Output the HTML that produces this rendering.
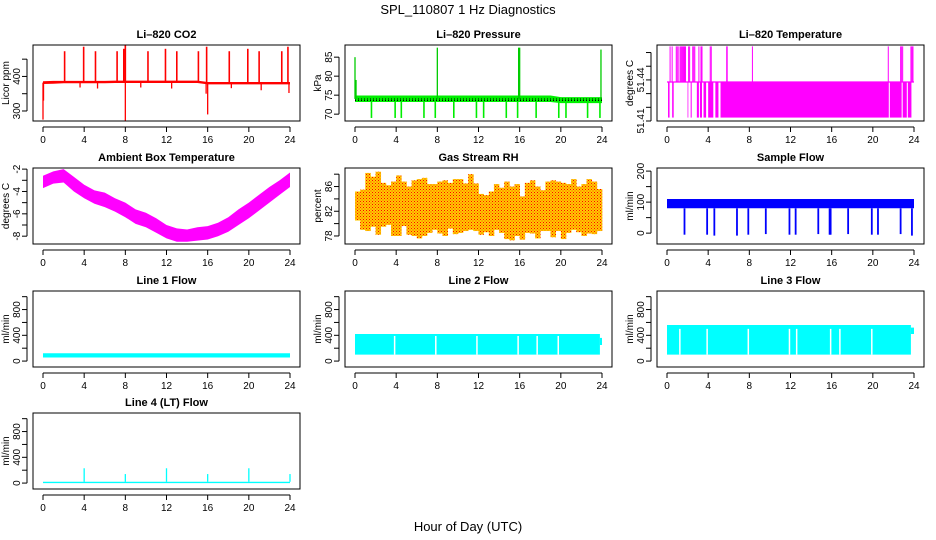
<!DOCTYPE html>
<html><head><meta charset="utf-8">
<style>
html,body{margin:0;padding:0;background:#fff;}
svg{display:block;font-family:"Liberation Sans",Arial,sans-serif;}
</style></head>
<body>
<svg id="chart" width="936" height="540" viewBox="0 0 936 540">
<text x="468" y="14" font-size="13" text-anchor="middle">SPL_110807  1 Hz Diagnostics</text>
<text x="468" y="531" font-size="13" text-anchor="middle">Hour of Day (UTC)</text>
</svg>
<script>
// ---------- data ----------
const xTicks = [0,4,8,12,16,20,24];
const hours = [0,1,2,3,4,5,6,7,8,9,10,11,12,13,14,15,16,17,18,19,20,21,22,23,24];

// CO2
const co2BaseLo = [378,379,380,380,380,380,380,381,381,381,381,381,381,381,381,381,377,377,377,377,377,377,377,377,377];
const co2BaseHi = [386,387,387,387,387,387,387,388,388,388,388,388,388,388,388,388,384,384,384,384,384,384,384,384,384];
const co2SpikeTimes = [2.1,3.95,5.1,7.2,7.85,8.0,10.2,11.9,13.0,15.1,15.9,18.1,19.9,21.0,23.2,23.8];
const co2SpikeVals  = [473,486,473,473,480,490,473,480,473,473,486,473,480,473,473,486];
const co2DipTimes = [0.0,0.05,8.0,16.0,15.85,5.3,12.5,21.2,23.9,3.6,9.5,18.3];
const co2DipVals  = [275,330,271,290,350,365,365,360,352,368,368,366];

// Ambient box temperature (band min/max per hour)
const ambLo = [-3.7,-3.3,-3.2,-4.0,-4.6,-5.1,-5.4,-5.8,-6.3,-6.9,-7.2,-7.7,-8.2,-8.5,-8.5,-8.4,-8.3,-8.0,-7.6,-7.0,-6.4,-5.7,-5.0,-4.3,-3.6];
const ambHi = [-2.6,-2.2,-2.0,-2.7,-3.4,-3.9,-4.1,-4.6,-5.0,-5.6,-5.9,-6.4,-7.0,-7.3,-7.4,-7.2,-7.1,-6.8,-6.3,-5.6,-5.0,-4.3,-3.6,-3.0,-2.3];

// Li-820 temperature
const ltLevels = [51.4125,51.4385,51.4645];
const ltFillStart = [0.1,0.5,2.0,2.3,2.9,3.2,3.55,4.0,4.7,5.2,21.65,22.9,23.4];
const ltFillEnd   = [0.25,0.65,2.07,2.4,3.1,3.4,3.8,4.5,5.0,21.55,22.8,23.3,23.75];
const ltTopTimes = [0.3,0.5,0.9,1.0,1.15,1.3,1.4,1.5,1.6,1.7,1.8,2.1,2.2,2.5,2.6,2.7,3.1,3.3,3.4,4.2,4.3,5.8,5.85,8.3,21.5,22.7,22.8,22.9,23.7,23.8,23.9];

// Pressure
const presLo = [73.2,73.2,73.2,73.2,73.2,73.2,73.2,73.2,73.2,73.2,73.2,73.2,73.2,73.2,73.2,73.2,73.2,73.2,73.2,73.2,72.9,72.9,72.9,72.9,72.9];
const presHi = [74.9,74.9,74.9,74.9,74.9,74.9,74.9,74.9,74.9,74.9,74.9,74.9,74.9,74.9,74.9,74.9,74.9,74.9,74.9,74.9,74.5,74.5,74.5,74.5,74.5];
const presDipTimes = [1.6,3.9,4.5,6.7,7.8,9.6,11.8,12.5,14.7,15.8,17.6,19.8,20.5,22.6,23.8];
const presSpikeTimes = [0.0,0.1,8.0,15.9,16.0,23.9];
const presSpikeVals  = [85,79,87.5,87.5,87.5,87];

// Gas stream RH (half-hour envelope)
const rhLo = [80.5,79.0,78.8,79.5,78.2,79.5,79.8,78.0,78.0,79.6,78.2,78.0,77.6,78.0,78.5,79.0,78.4,78.0,79.2,78.3,78.5,78.8,79.0,78.8,78.2,78.6,78.0,79.0,78.5,77.5,77.3,78.0,77.4,78.5,78.4,77.6,78.8,78.8,77.8,78.8,77.5,78.5,79.0,78.6,78.0,78.4,78.3,78.8];
const rhHi = [85.2,85.5,88.2,87.6,88.4,86.6,86.2,86.8,87.8,86.8,86.0,87.0,87.2,87.4,86.4,86.4,86.8,87.0,86.6,87.2,87.2,86.5,88.0,86.5,84.8,84.6,85.2,86.4,85.8,86.8,86.0,86.4,84.4,86.6,87.0,86.0,85.4,86.8,87.0,86.8,86.6,86.4,87.2,86.0,86.4,87.2,86.8,85.6];

// Sample flow
const sfLo = 80, sfHi = 110;
const sfDipTimes = [1.7,3.9,4.6,6.8,7.9,9.6,11.9,12.5,14.7,15.8,15.9,17.6,19.9,20.5,22.7,23.8];
const sfDipVals  = [-5,-5,-8,-8,-5,-3,-5,-5,-3,-5,-5,-3,-5,-5,-3,-8];

// Line flows
const l1Lo = 55, l1Hi = 120;
const l2Lo = 100, l2Hi = 420;
const l2Gaps = [3.85,7.85,11.85,15.85,19.75,17.7];
const l3Lo = 100, l3Hi = 560;
const l3Gaps = [3.9,7.9,11.9,15.9,19.9,1.25,12.6,16.8];
const l4Lo = 0, l4Hi = 20;
const l4SpikeTimes = [4.0,8.0,12.0,16.0,20.0,24.0];
const l4SpikeVals  = [230,140,230,140,230,140];

// ---------- drawing ----------
const NS = "http://www.w3.org/2000/svg";
const svg = document.getElementById('chart');
function mk(tag, attrs, parent){ const e=document.createElementNS(NS,tag); for(const k in attrs) e.setAttribute(k,attrs[k]); (parent||svg).appendChild(e); return e; }

const colL = [33,345,657], rowT = [45,168,291,413];
const BW = 267, BH = 76;
let clipId = 0;

function panel(col,row,name,title,ylab,ymin,ymax,ticks,labels){
  const L = colL[col], T = rowT[row];
  const g = mk('g',{});
  
  
  const x = t => L + 10 + t*(BW-20)/24;
  const y = v => T + BH - (v-ymin)/(ymax-ymin)*BH;
  const cid = 'clip'+(clipId++);
  const cp = mk('clipPath',{id:cid},g); mk('rect',{x:L,y:T,width:BW,height:BH},cp);
  const plot = mk('g',{'clip-path':'url(#'+cid+')'},g);
  
  
  const t = mk('text',{x:L+BW/2,y:T-7,'font-size':11,'font-weight':'bold','text-anchor':'middle'},g);
  t.textContent = title;
  
  
  const yl = mk('text',{x:0,y:0,'font-size':10,'text-anchor':'middle',transform:`translate(${L-24},${T+BH/2}) rotate(-90)`},g);
  yl.textContent = ylab;
  
  
  const ya = mk('g',{stroke:'#000','stroke-width':1},g);
  
  
  mk('line',{x1:L-6,x2:L-6,y1:y(ticks[0]),y2:y(ticks[ticks.length-1])},ya);
  ticks.forEach(v=>{ mk('line',{x1:L-11,x2:L-6,y1:y(v),y2:y(v)},ya); });
  labels.forEach(v=>{
    const tx = mk('text',{x:0,y:0,'font-size':10,'text-anchor':'middle',stroke:'none',transform:`translate(${L-13},${y(v)}) rotate(-90)`},g);
    tx.textContent = String(v);
    
    
  });
  const xa = mk('g',{stroke:'#000','stroke-width':1},g);
  
  
  mk('line',{x1:x(0),x2:x(24),y1:T+BH+6,y2:T+BH+6},xa);
  xTicks.forEach(v=>{
    mk('line',{x1:x(v),x2:x(v),y1:T+BH+6,y2:T+BH+11},xa);
    const tx = mk('text',{x:x(v),y:T+BH+22,'font-size':10,'text-anchor':'middle'},g);
    tx.textContent = String(v);
    
    
  });
  return {g,plot,x,y,L,T,finish(){ const b=mk('rect',{x:L,y:T,width:BW,height:BH,fill:'none',stroke:'#000','stroke-width':1},g);   }};
}
function band(p,times,lo,hi,color){
  let d = '';
  times.forEach((t,i)=>{ d += (i?'L':'M')+p.x(t).toFixed(1)+','+p.y(hi[i]).toFixed(1); });
  for(let i=times.length-1;i>=0;i--) d += 'L'+p.x(times[i]).toFixed(1)+','+p.y(lo[i]).toFixed(1);
  const r = mk('path',{d:d+'Z',fill:color},p.plot);
  
  
}
function vline(p,t,v0,v1,color,w){
  const l = mk('line',{x1:p.x(t),x2:p.x(t),y1:p.y(v0),y2:p.y(v1),stroke:color,'stroke-width':w||1.2},p.plot);
  
  
}
function flat(p,lo,hi,color){ band(p,[0,24],[lo,lo],[hi,hi],color); }

// CO2
let p = panel(0,0,'co2','Li\u2013820 CO2','Licor ppm',271,491,[300,350,400,450],[300,400]);
band(p,hours,co2BaseLo,co2BaseHi,'#ff0000');
co2SpikeTimes.forEach((t,i)=>vline(p,t,382,co2SpikeVals[i],'#ff0000',1.6));
co2DipTimes.forEach((t,i)=>vline(p,t,382,co2DipVals[i],'#ff0000',1.3));
p.finish();

// Pressure
p = panel(1,0,'pressure','Li\u2013820 Pressure','kPa',68.2,88.2,[70,75,80,85],[70,75,80,85]);
band(p,hours,presLo,presHi,'#00ee00');
mk('line',{x1:p.x(0),x2:p.x(24),y1:p.y(74),y2:p.y(74),stroke:'#000','stroke-width':1,'stroke-dasharray':'1,2'},p.plot);
mk('line',{x1:p.x(0),x2:p.x(24),y1:p.y(73.6),y2:p.y(73.6),stroke:'#000','stroke-width':1,'stroke-dasharray':'1,2'},p.plot);
presDipTimes.forEach(t=>vline(p,t,73.5,69,'#00ee00',1.6));
presSpikeTimes.forEach((t,i)=>vline(p,t,74,presSpikeVals[i],'#00cc00',1.3));
p.finish();

// Li-820 temp
p = panel(2,0,'li820-temp','Li\u2013820 Temperature','degrees C',51.41,51.4655,[51.41,51.42,51.43,51.44,51.45,51.46],[51.41,51.44]);
mk('line',{x1:p.x(0),x2:p.x(24),y1:p.y(ltLevels[1]),y2:p.y(ltLevels[1]),stroke:'#ff00ff','stroke-width':1.2},p.plot);
ltFillStart.forEach((s,i)=>{
  const r=mk('rect',{x:p.x(s),y:p.y(ltLevels[1]),width:p.x(ltFillEnd[i])-p.x(s),height:p.y(ltLevels[0])-p.y(ltLevels[1]),fill:'#ff00ff'},p.plot);
  
  
});
ltTopTimes.forEach(t=>vline(p,t,ltLevels[1],ltLevels[2],'#ff00ff',1));
p.finish();

// Ambient
p = panel(0,1,'ambient-temp','Ambient Box Temperature','degrees C',-8.7,-1.9,[-8,-7,-6,-5,-4,-3,-2],[-8,-6,-4,-2]);
band(p,hours,ambLo,ambHi,'#ff00ff');
p.finish();

// RH
p = panel(1,1,'gas-rh','Gas Stream RH','percent',76.7,89,[78,80,82,84,86,88],[78,82,86]);
const rhTimes = rhLo.map((_,i)=>i*0.5);
rhTimes.push(24);
const pat = mk('pattern',{id:'reddots',width:3,height:3,patternUnits:'userSpaceOnUse'});
mk('rect',{x:0,y:0,width:1,height:1,fill:'#ff0000'},pat);
mk('rect',{x:1.5,y:1.5,width:1,height:1,fill:'#ff3300'},pat);
rhTimes.slice(0,-1).forEach((t,i)=>{
  const x1=p.x(t), x2=p.x(rhTimes[i+1]);
  const top=p.y(rhHi[i]), bot=p.y(rhLo[i]);
  const r1=mk('rect',{x:x1,y:top,width:x2-x1+0.3,height:bot-top,fill:'#ffcc00'},p.plot);
  
  
  mk('rect',{x:x1,y:top,width:x2-x1+0.3,height:bot-top,fill:'url(#reddots)'},p.plot);
});
p.finish();

// Sample flow
p = panel(2,1,'sample-flow','Sample Flow','ml/min',-35,210,[0,50,100,150,200],[0,100,200]);
flat(p,sfLo,sfHi,'#0000ff');
sfDipTimes.forEach((t,i)=>vline(p,t,sfLo,sfDipVals[i],'#0000ff',1.8));
p.finish();

// Line flows
const lfTicks=[0,200,400,600,800,1000], lfLabels=[0,400,800];
p = panel(0,2,'line1-flow','Line 1 Flow','ml/min',-92,1088,lfTicks,lfLabels);
flat(p,l1Lo,l1Hi,'#00ffff'); p.finish();

p = panel(1,2,'line2-flow','Line 2 Flow','ml/min',-92,1088,lfTicks,lfLabels);
band(p,[0,23.8],[l2Lo,l2Lo],[l2Hi,l2Hi],'#00ffff');
band(p,[23.8,24],[250,250],[360,360],'#00ffff');
l2Gaps.forEach(t=>{ const l=mk('line',{x1:p.x(t),x2:p.x(t),y1:p.y(l2Lo),y2:p.y(l2Hi-30),stroke:'#fff','stroke-width':1.5},p.plot);  });
p.finish();

p = panel(2,2,'line3-flow','Line 3 Flow','ml/min',-92,1088,lfTicks,lfLabels);
band(p,[0,23.7],[l3Lo,l3Lo],[l3Hi,l3Hi],'#00ffff');
band(p,[23.7,24],[420,420],[520,520],'#00ffff');
l3Gaps.forEach(t=>{ const l=mk('line',{x1:p.x(t),x2:p.x(t),y1:p.y(l3Lo),y2:p.y(l3Hi-60),stroke:'#fff','stroke-width':1.5},p.plot);  });
p.finish();

p = panel(0,3,'line4-flow','Line 4 (LT) Flow','ml/min',-92,1088,lfTicks,lfLabels);
flat(p,l4Lo,l4Hi,'#00ffff');
l4SpikeTimes.forEach((t,i)=>vline(p,t,l4Hi,l4SpikeVals[i],'#00ffff',1.3));
p.finish();
</script>
</body></html>
